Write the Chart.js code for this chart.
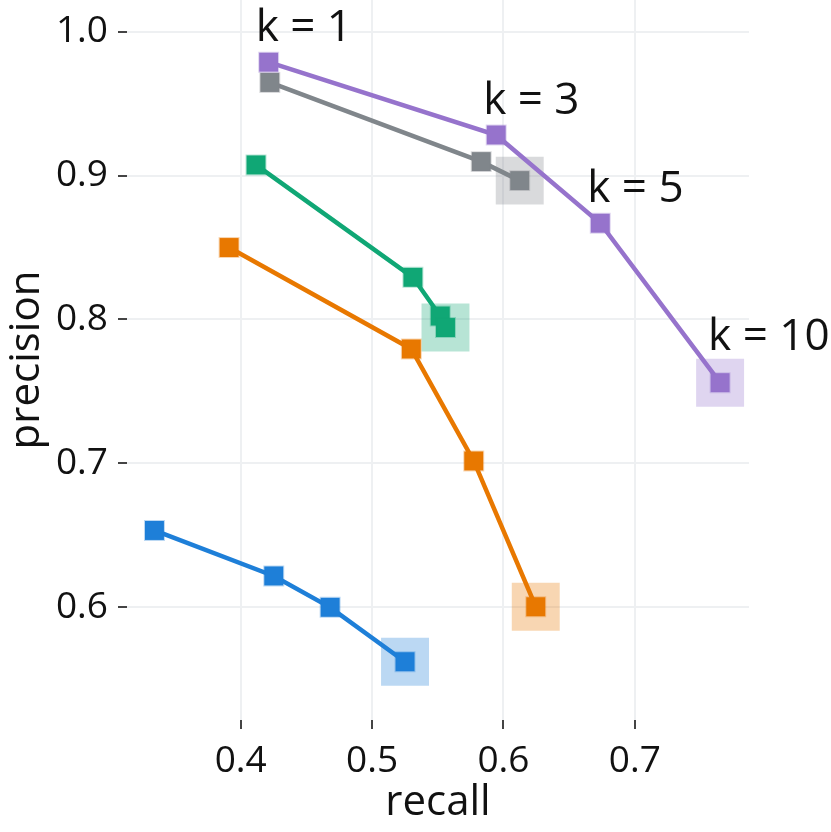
<!DOCTYPE html>
<html>
<head>
<meta charset="utf-8">
<script src="https://cdn.jsdelivr.net/npm/chart.js@4.4.0/dist/chart.umd.min.js"></script>
<style>
  html, body { margin: 0; padding: 0; background: #fff; }
  #wrap { width: 831px; height: 832px; }
</style>
</head>
<body>
<div id="wrap"><canvas id="myChart"></canvas></div>
<script>
// values, one point per k
const kLabels = ['k = 1', 'k = 3', 'k = 5', 'k = 10'];

const purpleRecall = [0.4213, 0.5945, 0.6737, 0.7649];
const purplePrecision = [0.9788, 0.9282, 0.8669, 0.7561];
const grayRecall = [0.4222, 0.5831, 0.6124];
const grayPrecision = [0.9647, 0.9097, 0.8965];
const greenRecall = [0.4117, 0.5311, 0.5519, 0.5559];
const greenPrecision = [0.9074, 0.8293, 0.8024, 0.7944];
const orangeRecall = [0.3912, 0.5299, 0.5774, 0.6246];
const orangePrecision = [0.8500, 0.7795, 0.7017, 0.6004];
const blueRecall = [0.3344, 0.4252, 0.4681, 0.5251];
const bluePrecision = [0.6534, 0.6218, 0.6000, 0.5622];

const xTicks = [0.4, 0.5, 0.6, 0.7];
const yTicks = [0.6, 0.7, 0.8, 0.9, 1.0];

const FONT = '"Open Sans", "Noto Sans", sans-serif';
const TEXT = '#111';

const fade = (hex, a) => {
    const n = parseInt(hex.slice(1), 16);
    return `rgba(${n >> 16}, ${(n >> 8) & 255}, ${n & 255}, ${a})`;
}

const toPoints = (xs, ys) => xs.map((x, i) => ({x: x, y: ys[i]}));

const lineSet = (xs, ys, color) => ({
    data: toPoints(xs, ys),
    showLine: true,
    borderColor: color,
    borderWidth: 4.5,
    pointStyle: 'rect',
    pointRadius: 13.4,
    pointBackgroundColor: color,
    pointBorderColor: fade(color, 0.3),
    pointBorderWidth: 2,
    order: 0
});

// big pale square behind the last point (k = 10)
const highlightSet = (xs, ys, color) => ({
    data: toPoints(xs.slice(-1), ys.slice(-1)),
    showLine: false,
    pointStyle: 'rect',
    pointRadius: 33.9,
    pointBackgroundColor: fade(color, 0.3),
    pointBorderWidth: 0,
    order: 1
});

const series = [
    [purpleRecall, purplePrecision, '#9673CC'],
    [grayRecall, grayPrecision, '#80868B'],
    [greenRecall, greenPrecision, '#10A775'],
    [orangeRecall, orangePrecision, '#E87800'],
    [blueRecall, bluePrecision, '#1E7FD8']
];

const datasets = [
    ...series.map(s => lineSet(...s)),
    ...series.map(s => highlightSet(...s))
];

const kLabelPlugin = {
    id: 'kLabels',
    afterDatasetsDraw(chart) {
        const meta = chart.getDatasetMeta(0);
        const ctx = chart.ctx;
        ctx.save();
        ctx.font = `44px ${FONT}`;
        ctx.fillStyle = TEXT;
        ctx.textAlign = 'left';
        ctx.textBaseline = 'alphabetic';
        meta.data.forEach((pt, i) => {
            const last = i === kLabels.length - 1;
            ctx.fillText(kLabels[i], pt.x - (last ? 12 : 13), pt.y + (last ? -33 : -21));
        });
        ctx.restore();
    }
};

// stop chart.js from reserving room for half a tick label at each end
const noEdgePadding = scale => {
    scale.paddingTop = 0;
    scale.paddingBottom = 0;
    scale.paddingLeft = 0;
    scale.paddingRight = 0;
}

const axisCommon = {
    type: 'linear',
    border: {display: false},
    grid: {
        color: '#eef0f2',
        lineWidth: 2,
        drawTicks: true,
        tickColor: '#444',
        tickWidth: 2,
        tickLength: 9
    },
    ticks: {
        font: {family: FONT, size: 37},
        color: TEXT,
        padding: 10,
        callback: v => v.toFixed(1)
    }
};

const config = {
    type: 'scatter',
    data: {datasets: datasets},
    options: {
        responsive: true,
        maintainAspectRatio: false,
        animation: false,
        events: [],
        layout: {autoPadding: false, padding: {left: 0, right: 82, top: 0, bottom: 0}},
        plugins: {legend: {display: false}, tooltip: {enabled: false}},
        scales: {
            x: {
                ...axisCommon,
                min: 0.3135,
                max: 0.7869,
                afterBuildTicks: scale => { scale.ticks = xTicks.map(v => ({value: v})); },
                afterFit: scale => { scale.height = 112; noEdgePadding(scale); },
                title: {display: true, text: 'recall', color: TEXT,
                    font: {family: FONT, size: 42}, padding: {top: 0, bottom: 4}}
            },
            y: {
                ...axisCommon,
                min: 0.5217,
                max: 1.022,
                afterBuildTicks: scale => { scale.ticks = yTicks.map(v => ({value: v})); },
                afterFit: scale => { scale.width = 127; noEdgePadding(scale); },
                title: {display: true, text: 'precision', color: TEXT,
                    font: {family: FONT, size: 42}, padding: {top: 2, bottom: 0}}
            }
        }
    },
    plugins: [kLabelPlugin]
};

new Chart(document.getElementById('myChart'), config);
</script>
</body>
</html>
